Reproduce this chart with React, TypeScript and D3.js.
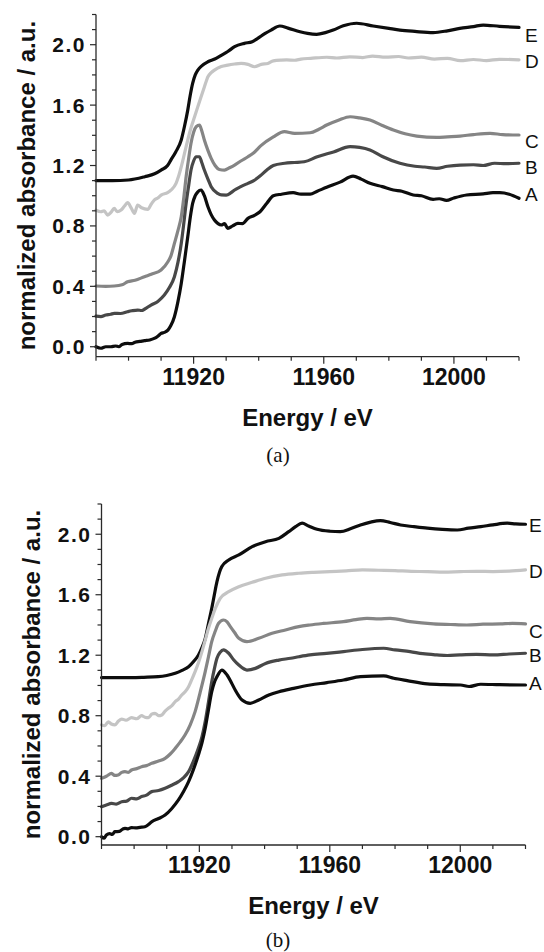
import React from "react";
import * as d3 from "d3";

type Pt = [number, number];

const seriesNames = ["A", "B", "C", "D", "E"];
const seriesColors = ["#0d0d0d", "#484848", "#858585", "#c4c4c4", "#0d0d0d"];

const xTickValues = [11890, 11900, 11910, 11920, 11930, 11940, 11950, 11960, 11970, 11980, 11990, 12000, 12010, 12020];
const xTickLabels = [11920, 11960, 12000];
const yTickValues = [0, 0.1, 0.2, 0.3, 0.4, 0.5, 0.6, 0.7, 0.8, 0.9, 1.0, 1.1, 1.2, 1.3, 1.4, 1.5, 1.6, 1.7, 1.8, 1.9, 2.0, 2.1, 2.2];
const yTickLabels = ["0.0", "0.4", "0.8", "1.2", "1.6", "2.0"];

// ---------- panel (a) ----------
const topA: Pt[] = [[11890,0.0],[11891.5,-0.01],[11893,0.0],[11894.6,0.0],[11896,0.005],[11897,0.0],[11898,0.015],[11899.7,0.022],[11901,0.02],[11902,0.03],[11903.5,0.035],[11904.9,0.04],[11906.5,0.045],[11907.9,0.055],[11909,0.07],[11910,0.088],[11911,0.095],[11912.1,0.11],[11913,0.14],[11914.1,0.199],[11915.2,0.30],[11916.2,0.419],[11917.2,0.57],[11918.2,0.728],[11919,0.86],[11919.7,0.949],[11920.5,1.0],[11921.3,1.026],[11922.3,1.038],[11923.3,1.0],[11924.4,0.927],[11925.4,0.875],[11926.4,0.839],[11927.5,0.815],[11928.5,0.806],[11929.5,0.815],[11930.5,0.784],[11932,0.80],[11933.6,0.817],[11935,0.815],[11936.7,0.85],[11938.7,0.87],[11940.4,0.894],[11942.5,0.95],[11944.5,1.0],[11947,1.01],[11950.6,1.02],[11953,1.01],[11955.8,1.011],[11958,1.03],[11960.9,1.056],[11965,1.09],[11969,1.13],[11971.5,1.11],[11974.2,1.082],[11978,1.06],[11981.4,1.038],[11984,1.03],[11987.5,1.005],[11990,1.0],[11993.6,0.976],[11995.5,0.98],[11997.7,0.969],[12000,0.985],[12003.9,1.005],[12009,1.012],[12012,1.02],[12014.1,1.02],[12017,1.01],[12020,0.983]];
const topB: Pt[] = [[11890,0.203],[11891.5,0.20],[11893,0.21],[11894.5,0.215],[11895.6,0.221],[11897.5,0.22],[11899.7,0.232],[11901,0.238],[11902.8,0.243],[11904,0.24],[11905,0.25],[11906.9,0.276],[11909,0.30],[11911,0.342],[11912.5,0.39],[11914.1,0.464],[11915.2,0.56],[11916.2,0.684],[11917,0.82],[11917.7,0.949],[11918.5,1.07],[11919.2,1.17],[11920,1.23],[11920.8,1.258],[11921.8,1.258],[11922.5,1.22],[11923.3,1.17],[11924.4,1.11],[11925.4,1.06],[11927.4,1.015],[11928.5,1.005],[11930,1.004],[11931.5,1.02],[11932.6,1.038],[11934.5,1.06],[11936.7,1.082],[11938.5,1.10],[11940.4,1.13],[11942.5,1.17],[11944.5,1.20],[11948,1.215],[11951,1.22],[11954,1.225],[11958,1.258],[11963,1.29],[11968.1,1.325],[11971,1.32],[11974.2,1.303],[11978,1.26],[11983.4,1.215],[11988,1.195],[11991,1.19],[11994.7,1.181],[11998,1.195],[12001.9,1.203],[12006,1.205],[12009,1.20],[12012.5,1.215],[12016,1.212],[12020,1.215]];
const topC: Pt[] = [[11890,0.402],[11893,0.40],[11895.6,0.402],[11898,0.41],[11899.7,0.43],[11902,0.44],[11904.9,0.464],[11907,0.48],[11910,0.508],[11912.1,0.563],[11913,0.60],[11914.1,0.684],[11915.2,0.77],[11916.2,0.861],[11917,0.99],[11917.7,1.126],[11918.5,1.25],[11919.2,1.347],[11920,1.42],[11920.8,1.457],[11921.8,1.468],[11922.5,1.43],[11923.3,1.369],[11924.4,1.30],[11925.4,1.247],[11926.6,1.20],[11927.9,1.174],[11929.5,1.17],[11931,1.185],[11932.6,1.203],[11934.5,1.23],[11936.7,1.258],[11938.5,1.285],[11940.6,1.33],[11944.5,1.39],[11947.9,1.424],[11951,1.413],[11955.8,1.417],[11958.5,1.44],[11960.9,1.468],[11964.5,1.50],[11968.1,1.523],[11971,1.515],[11974.2,1.501],[11978,1.465],[11981.4,1.435],[11985,1.41],[11988.6,1.395],[11994.7,1.386],[11998,1.39],[12001.9,1.395],[12006,1.405],[12011.1,1.413],[12015,1.405],[12020,1.402]];
const topD: Pt[] = [[11890,0.905],[11891.5,0.894],[11892.5,0.90],[11893.6,0.872],[11894.6,0.89],[11895.6,0.916],[11896.5,0.895],[11897.7,0.905],[11898.7,0.93],[11899.7,0.954],[11900.8,0.92],[11901.8,0.883],[11902.8,0.938],[11904,0.92],[11905.9,0.91],[11907,0.945],[11907.9,0.971],[11909,0.985],[11910,1.004],[11912,1.02],[11913.1,1.038],[11914.6,1.082],[11915.4,1.13],[11916.2,1.192],[11917.2,1.28],[11918.2,1.369],[11919.2,1.45],[11920.3,1.523],[11921.3,1.59],[11922.3,1.656],[11923.3,1.72],[11924.4,1.788],[11925.4,1.815],[11926.4,1.832],[11928.5,1.855],[11930.5,1.865],[11932.6,1.872],[11934.6,1.876],[11936.7,1.87],[11938.7,1.854],[11940.8,1.87],[11942.8,1.876],[11944.5,1.893],[11946.9,1.898],[11948.6,1.899],[11951,1.897],[11953,1.905],[11956,1.91],[11960.9,1.917],[11964,1.912],[11968,1.92],[11972,1.915],[11975,1.925],[11979,1.918],[11983,1.922],[11986,1.912],[11990,1.918],[11994,1.905],[11998,1.91],[12002,1.894],[12006,1.902],[12010,1.895],[12014,1.903],[12020,1.90]];
const topE: Pt[] = [[11890,1.10],[11895,1.10],[11900,1.104],[11905,1.126],[11908,1.145],[11910,1.17],[11912,1.20],[11913,1.236],[11914.5,1.29],[11916.2,1.369],[11917.2,1.46],[11918.2,1.567],[11919,1.67],[11919.7,1.744],[11920.5,1.80],[11921.3,1.832],[11922.5,1.86],[11924.4,1.887],[11926.5,1.905],[11928.5,1.93],[11930.5,1.955],[11932.6,1.987],[11935.6,2.009],[11938,2.02],[11939.7,2.042],[11942,2.075],[11943.8,2.097],[11946.5,2.124],[11949,2.11],[11952.7,2.086],[11955,2.075],[11957.8,2.069],[11960.5,2.08],[11962.9,2.097],[11966,2.125],[11970.1,2.142],[11975.2,2.124],[11980,2.108],[11983.4,2.097],[11988,2.088],[11993.6,2.08],[11998,2.092],[12001.8,2.108],[12006,2.12],[12009,2.13],[12014,2.122],[12020,2.115]];
const topLabelValues = [1.01, 1.19, 1.36, 1.89, 2.06];

// ---------- panel (b) ----------
const bottomA: Pt[] = [[11890,0.0],[11890.8,-0.01],[11891.5,0.011],[11892.5,0.02],[11893.3,0.015],[11894.1,0.033],[11895.5,0.035],[11896.5,0.05],[11897.2,0.055],[11898.2,0.052],[11899.2,0.06],[11900.5,0.058],[11901.8,0.062],[11903.3,0.066],[11904.4,0.08],[11905.4,0.099],[11907.5,0.12],[11909.5,0.143],[11911.5,0.185],[11913.6,0.243],[11915.2,0.30],[11916.7,0.364],[11918.2,0.445],[11919.7,0.54],[11920.8,0.62],[11921.8,0.717],[11922.8,0.84],[11923.8,0.959],[11924.6,1.02],[11925.4,1.058],[11926.9,1.102],[11928.5,1.069],[11929.8,1.02],[11931,0.97],[11933.1,0.904],[11935.6,0.882],[11938.2,0.904],[11941.3,0.937],[11944.4,0.959],[11948.9,0.981],[11954,1.003],[11959.1,1.019],[11964.2,1.036],[11969.4,1.058],[11976.5,1.063],[11979.6,1.048],[11983.7,1.032],[11989.9,1.01],[11995,1.005],[12000.1,1.003],[12002.7,0.993],[12006.3,1.008],[12012,1.005],[12020,1.003]];
const bottomB: Pt[] = [[11890,0.198],[11891.5,0.21],[11893.1,0.22],[11894.5,0.215],[11896.2,0.231],[11897.7,0.235],[11899.2,0.254],[11900.8,0.25],[11902.3,0.265],[11903.8,0.275],[11905.4,0.298],[11907.5,0.305],[11909.5,0.32],[11911.5,0.34],[11913.6,0.364],[11915.2,0.39],[11916.7,0.43],[11918.2,0.50],[11919.7,0.584],[11920.8,0.66],[11921.8,0.761],[11922.8,0.89],[11923.8,1.025],[11924.6,1.11],[11925.4,1.18],[11926.4,1.22],[11927.4,1.235],[11929,1.213],[11930.5,1.17],[11932.1,1.135],[11934.6,1.102],[11937.2,1.113],[11940.3,1.146],[11944.4,1.168],[11948,1.18],[11950.5,1.19],[11953.9,1.202],[11959,1.212],[11964.2,1.224],[11970,1.238],[11976.5,1.246],[11980,1.235],[11984.6,1.224],[11988.5,1.21],[11992.8,1.202],[11996,1.198],[11999.9,1.202],[12005,1.205],[12010.1,1.202],[12015,1.208],[12020,1.213]];
const bottomC: Pt[] = [[11890,0.386],[11891.5,0.40],[11893.1,0.419],[11894,0.405],[11895.1,0.408],[11896.2,0.425],[11897.2,0.43],[11898.2,0.425],[11899.2,0.441],[11900.8,0.45],[11902.3,0.463],[11903.8,0.47],[11905.4,0.485],[11907.5,0.50],[11909.5,0.518],[11911,0.545],[11912.6,0.584],[11914.1,0.625],[11915.6,0.672],[11917.2,0.74],[11918.7,0.827],[11920.2,0.95],[11921.8,1.091],[11922.8,1.19],[11923.8,1.29],[11924.9,1.36],[11925.9,1.411],[11927.4,1.433],[11928.5,1.42],[11929.5,1.389],[11930.8,1.35],[11932.1,1.312],[11934.6,1.29],[11938.2,1.312],[11942.3,1.345],[11946.4,1.367],[11950.5,1.389],[11953.9,1.40],[11958,1.41],[11964.2,1.422],[11968,1.435],[11971.4,1.444],[11975,1.44],[11978.5,1.444],[11984.6,1.422],[11991.8,1.407],[11997,1.403],[12002,1.40],[12007,1.405],[12012.3,1.407],[12016,1.41],[12020,1.407]];
const bottomD: Pt[] = [[11890,0.739],[11891,0.735],[11892.1,0.76],[11893,0.745],[11894.1,0.739],[11895.2,0.765],[11896.2,0.778],[11897.5,0.77],[11899.2,0.787],[11900.8,0.78],[11902.3,0.80],[11903.3,0.79],[11904.4,0.787],[11905.4,0.81],[11906.4,0.816],[11907.5,0.80],[11908.5,0.805],[11909.5,0.83],[11910.5,0.849],[11911.5,0.865],[11912.6,0.893],[11913.6,0.91],[11914.6,0.937],[11915.7,0.96],[11916.7,0.992],[11917.7,1.04],[11918.7,1.091],[11919.8,1.155],[11920.8,1.224],[11921.8,1.30],[11922.8,1.378],[11923.9,1.45],[11924.9,1.51],[11926.4,1.576],[11929,1.62],[11932.1,1.653],[11936.2,1.682],[11940.3,1.709],[11945.4,1.731],[11950.5,1.742],[11955,1.748],[11960,1.753],[11965,1.758],[11970,1.764],[11975,1.762],[11980,1.76],[11985,1.754],[11990,1.753],[11995,1.75],[12000,1.753],[12005,1.755],[12010,1.753],[12015,1.756],[12020,1.764]];
const bottomE: Pt[] = [[11890,1.052],[11895,1.052],[11899.2,1.052],[11903,1.054],[11907.4,1.058],[11910,1.066],[11912.6,1.08],[11914.7,1.10],[11916.7,1.124],[11918.3,1.16],[11919.7,1.20],[11920.8,1.25],[11921.8,1.31],[11922.8,1.41],[11923.8,1.51],[11924.6,1.60],[11925.4,1.686],[11926.2,1.75],[11926.9,1.786],[11929,1.83],[11932.1,1.863],[11936.2,1.918],[11940.3,1.951],[11944.4,1.973],[11947.4,2.017],[11949.5,2.05],[11951.5,2.073],[11953.5,2.055],[11956.1,2.033],[11960,2.02],[11963.2,2.017],[11966.5,2.038],[11969.4,2.061],[11972.5,2.08],[11975.5,2.09],[11978.5,2.078],[11981.7,2.061],[11985.8,2.05],[11989.9,2.04],[11994.5,2.032],[11999.1,2.028],[12002.5,2.04],[12006.3,2.05],[12010,2.062],[12014.4,2.073],[12017,2.068],[12020,2.066]];
const bottomLabelValues = [1.01, 1.195, 1.354, 1.751, 2.061];

type PanelProps = {
  series: Pt[][];
  labelValues: number[];
  labelX: number;
  left: number; right: number; top: number; bottom: number;
  yMin: number;
  caption: string;
  captionY: number;
};

const FONT = "Arial, 'Liberation Sans', Helvetica, sans-serif";

function Panel(p: PanelProps) {
  const x = d3.scaleLinear().domain([11890, 12020]).range([p.left, p.right]);
  const y = d3.scaleLinear().domain([p.yMin, 2.2]).range([p.bottom, p.top]);
  const line = d3.line<Pt>().x(d => x(d[0])).y(d => y(d[1])).curve(d3.curveMonotoneX);
  const axisColor = "#2a2a2a";
  const order = [4, 3, 2, 1, 0];
  const cx = (p.left + p.right) / 2;
  const cy = (p.top + p.bottom) / 2;
  return (
    <g>
      {order.map(i => (
        <path key={i} d={line(p.series[i]) || ""} fill="none" stroke={seriesColors[i]} strokeWidth={3.2} strokeLinejoin="round" strokeLinecap="round" />
      ))}
      {seriesNames.map((n, i) => (
        <text key={n} x={p.labelX} y={y(p.labelValues[i])} dominantBaseline="central" fontFamily={FONT} fontSize={19} fill="#111">{n}</text>
      ))}
      <line x1={p.left} x2={p.left} y1={p.top} y2={p.bottom} stroke={axisColor} strokeWidth={1.3} />
      <line x1={p.left} x2={p.right} y1={p.bottom} y2={p.bottom} stroke={axisColor} strokeWidth={1.3} />
      {yTickValues.map((v, i) => (
        <line key={"yt" + i} x1={p.left} x2={p.left - (i % 4 === 0 ? 6 : 4)} y1={y(v)} y2={y(v)} stroke={axisColor} strokeWidth={1.2} />
      ))}
      {yTickLabels.map(t => (
        <text key={"yl" + t} x={p.left - 10} y={y(+t)} textAnchor="end" dominantBaseline="central" fontFamily={FONT} fontWeight="bold" fontSize={21} letterSpacing={1.5} fill="#111">{t}</text>
      ))}
      {xTickValues.map(v => (
        <line key={"xt" + v} x1={x(v)} x2={x(v)} y1={p.bottom} y2={p.bottom + (xTickLabels.includes(v) ? 7 : 4)} stroke={axisColor} strokeWidth={1.2} />
      ))}
      {xTickLabels.map(v => (
        <text key={"xl" + v} x={x(v)} y={p.bottom + 28} textAnchor="middle" fontFamily={FONT} fontWeight="bold" fontSize={23} fill="#111">{v}</text>
      ))}
      <text x={cx} y={p.bottom + 69} textAnchor="middle" fontFamily={FONT} fontWeight="bold" fontSize={24} fill="#111">Energy / eV</text>
      <text transform={`translate(${p.left - 70},${cy}) rotate(-90)`} textAnchor="middle" dominantBaseline="central" fontFamily={FONT} fontWeight="bold" fontSize={24} fill="#111">normalized absorbance / a.u.</text>
      <text x={278} y={p.captionY} textAnchor="middle" fontFamily="'Liberation Serif', 'DejaVu Serif', serif" fontSize={21} fill="#111">{p.caption}</text>
    </g>
  );
}

export default function App() {
  return (
    <svg width={544} height={952} style={{ position: "absolute", left: 0, top: 0, background: "#fff" }}>
      <rect x={0} y={0} width={544} height={952} fill="#fff" />
      <Panel series={[topA, topB, topC, topD, topE]} labelValues={topLabelValues} labelX={525}
        left={96} right={519} top={14.5} bottom={356.7} yMin={-0.066} caption="(a)" captionY={462} />
      <Panel series={[bottomA, bottomB, bottomC, bottomD, bottomE]} labelValues={bottomLabelValues} labelX={529}
        left={101.5} right={525.5} top={504} bottom={845} yMin={-0.055} caption="(b)" captionY={947} />
    </svg>
  );
}
